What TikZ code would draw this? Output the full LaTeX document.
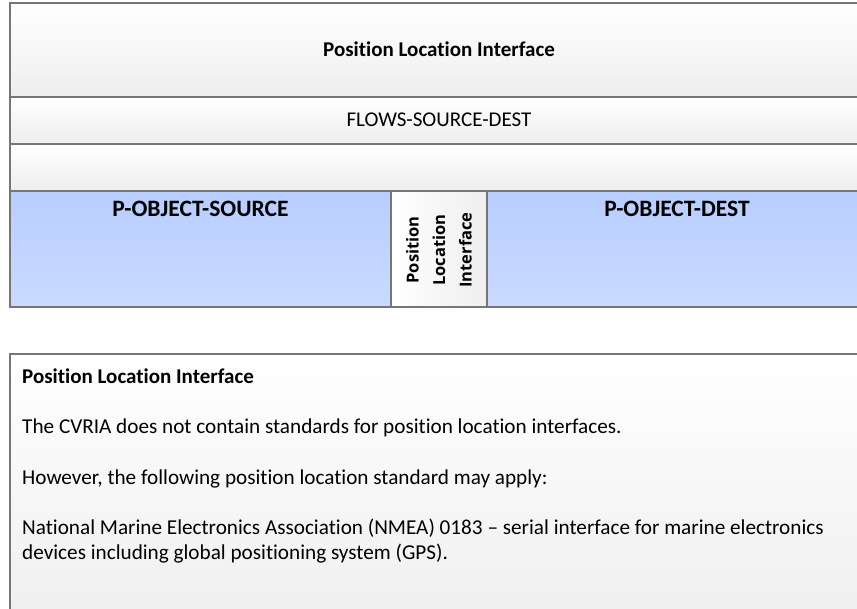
\documentclass[tikz,border=0pt]{standalone}
\usepackage{fontspec}
\setmainfont[Ligatures={TeX,NoCommon}]{Carlito}
\newfontfamily\vfont{Open Sans}
\definecolor{bordergray}{RGB}{118,118,118}
\definecolor{rowgray}{RGB}{238,238,238}
\definecolor{blueTop}{RGB}{184,206,255}
\definecolor{blueBot}{RGB}{202,218,255}
\begin{document}
\begin{tikzpicture}[x=1pt,y=-1pt,
  frame/.style={draw=bordergray, line width=1.2pt},
  grayrow/.style={frame, top color=white, bottom color=rowgray},
  bluebox/.style={frame, top color=blueTop, bottom color=blueBot},
  midbox/.style={frame, left color=white, right color=rowgray},
  bigbold/.style={font=\bfseries\fontsize{21}{25}\selectfont, inner sep=0pt},
  bigreg/.style={font=\fontsize{21}{25}\selectfont, inner sep=0pt},
  objlabel/.style={font=\bfseries\fontsize{23.5}{28}\selectfont, inner sep=0pt, anchor=base},
  bodytext/.style={font=\fontsize{21.2}{25}\selectfont, inner sep=0pt, anchor=base west, align=left}]
\useasboundingbox (0,0) rectangle (857,609);
\clip (0,0) rectangle (857,609);
% top structure
\path[grayrow] (10,3) rectangle (868,97);
\path[grayrow] (10,97) rectangle (868,144);
\path[grayrow] (10,144) rectangle (868,191);
\path[bluebox] (10,191) rectangle (391,307);
\path[midbox] (391,191) rectangle (487,307);
\path[bluebox] (487,191) rectangle (868,307);
\node[bigbold, anchor=base] (title) at (439,57) {Position Location Interface};
\node[bigreg, anchor=base] (flows) at (439,127) {FLOWS-SOURCE-DEST};
\node[objlabel] (src) at (200.5,217) {P-OBJECT-SOURCE};
\node[objlabel] (dst) at (677,217) {P-OBJECT-DEST};
\node[font=\vfont\bfseries\fontsize{16.5}{26.5}\selectfont, rotate=90, align=center, inner sep=0pt] (pli) at (439,250) {Position\\Location\\Interface};
% bottom description
\path[grayrow] (10,354) rectangle (868,640);
\node[bigbold, anchor=base west] (dtitle) at (22,384) {Position Location Interface};
\node[bodytext] (p1) at (22,434) {The CVRIA does not contain standards for position location interfaces.};
\node[bodytext] (p2) at (22,484) {However, the following position location standard may apply:};
\node[bodytext] (p3) at (22,559) {National Marine Electronics Association (NMEA) 0183 – serial interface for marine electronics\\devices including global positioning system (GPS).};
\end{tikzpicture}
\end{document}
